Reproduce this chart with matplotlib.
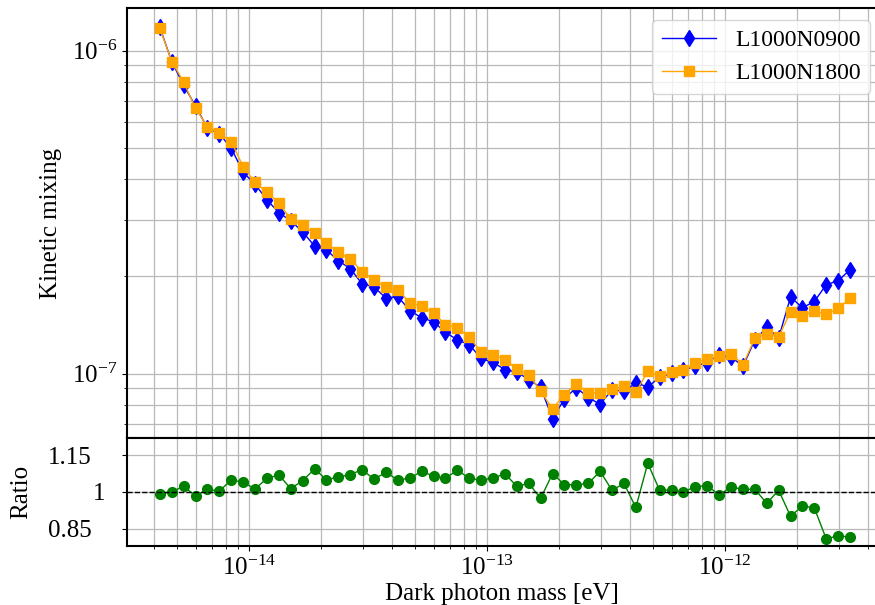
import numpy as np
import matplotlib
matplotlib.use("Agg")
import matplotlib.pyplot as plt
import matplotlib.transforms as mtransforms
from matplotlib.ticker import NullFormatter

plt.rcParams["font.family"] = ["Liberation Serif", "DejaVu Serif"]
plt.rcParams["mathtext.fontset"] = "custom"
plt.rcParams["mathtext.rm"] = "Liberation Serif"
plt.rcParams["mathtext.it"] = "Liberation Serif:italic"
plt.rcParams["axes.linewidth"] = 1.5

# dark photon mass, in units of 1e-15 eV
mass_1e15 = [4.217, 4.732, 5.309, 5.957, 6.683, 7.499, 8.414, 9.441, 10.59, 11.89,
             13.34, 14.96, 16.79, 18.84, 21.13, 23.71, 26.61, 29.85, 33.50, 37.58,
             42.17, 47.32, 53.09, 59.57, 66.83, 74.99, 84.14, 94.41, 105.9, 118.9,
             133.4, 149.6, 167.9, 188.4, 211.3, 237.1, 266.1, 298.5, 335.0, 375.8,
             421.7, 473.2, 530.9, 595.7, 668.3, 749.9, 841.4, 944.1, 1059, 1189,
             1334, 1496, 1679, 1884, 2113, 2371, 2661, 2985, 3350]

# kinetic mixing, in units of 1e-7
mix_n0900 = [11.81, 9.24, 7.82, 6.73, 5.76, 5.53, 4.99, 4.20, 3.86, 3.45,
             3.15, 2.973, 2.749, 2.483, 2.416, 2.237, 2.114, 1.896, 1.856, 1.712,
             1.734, 1.567, 1.490, 1.447, 1.343, 1.272, 1.230, 1.114, 1.083, 1.029,
             1.011, 0.959, 0.906, 0.725, 0.836, 0.905, 0.843, 0.804, 0.891, 0.883,
             0.935, 0.910, 0.974, 1.001, 1.024, 1.056, 1.082, 1.145, 1.127, 1.054,
             1.272, 1.391, 1.290, 1.726, 1.600, 1.672, 1.886, 1.937, 2.100]

mix_n1800 = [11.73, 9.25, 8.00, 6.62, 5.82, 5.55, 5.23, 4.37, 3.91, 3.64,
             3.37, 3.015, 2.875, 2.716, 2.537, 2.373, 2.264, 2.068, 1.953, 1.849,
             1.819, 1.655, 1.615, 1.541, 1.418, 1.385, 1.299, 1.167, 1.145, 1.105,
             1.034, 0.993, 0.882, 0.779, 0.861, 0.931, 0.872, 0.872, 0.897, 0.914,
             0.876, 1.016, 0.981, 1.009, 1.024, 1.079, 1.110, 1.131, 1.150, 1.066,
             1.286, 1.327, 1.299, 1.555, 1.509, 1.563, 1.526, 1.592, 1.714]

ratio = [0.993, 1.001, 1.023, 0.984, 1.011, 1.004, 1.049, 1.040, 1.012, 1.056,
         1.069, 1.014, 1.046, 1.094, 1.050, 1.061, 1.071, 1.091, 1.052, 1.080,
         1.049, 1.056, 1.084, 1.065, 1.056, 1.089, 1.056, 1.048, 1.057, 1.074,
         1.023, 1.035, 0.974, 1.075, 1.030, 1.029, 1.035, 1.084, 1.007, 1.035,
         0.937, 1.117, 1.007, 1.008, 1.000, 1.022, 1.026, 0.988, 1.020, 1.011,
         1.011, 0.954, 1.007, 0.901, 0.943, 0.935, 0.809, 0.822, 0.816]

x_ticks = [1e-14, 1e-13, 1e-12]
y_ticks = [1e-7, 1e-6]
ratio_ticks = [0.85, 1, 1.15]
ratio_ticklabels = ["0.85", "1", "1.15"]

mass = np.array(mass_1e15) * 1e-15
y1 = np.array(mix_n0900) * 1e-7
y2 = np.array(mix_n1800) * 1e-7

W, H = 875, 605
fig = plt.figure(figsize=(W / 100, H / 100), dpi=100)

# one decade of mass = 238 px, right spine just off the picture
left_px, right_px = 127, 877
left = left_px / W
width = (right_px - left_px) / W
ax = fig.add_axes([left, 1 - 438 / H, width, (438 - 8) / H])
axr = fig.add_axes([left, 1 - 546 / H, width, (546 - 438) / H], sharex=ax)

# ---- top panel
ax.plot(mass, y1, color="blue", marker="d", markersize=8, lw=1, label="L1000N0900")
ax.plot(mass, y2, color="orange", marker="s", markersize=7.5, lw=1, label="L1000N1800")
ax.set_xscale("log")
ax.set_yscale("log")
ax.set_xlim(10 ** -14.513, 10 ** (-14.513 + (right_px - left_px) / 238))
ax.set_ylim(6.32e-8, 1.355e-6)
ax.set_xticks(x_ticks)
ax.set_yticks(y_ticks)
ax.grid(True, which="both", color="#b8b8b8", lw=0.9)
ax.set_ylabel("Kinetic mixing", fontsize=18)
ax.yaxis.set_label_coords((62 - left_px) / (right_px - left_px), 0.5)
ax.yaxis.set_minor_formatter(NullFormatter())
ax.xaxis.set_minor_formatter(NullFormatter())
ax.tick_params(labelbottom=False, labelsize=18)
ax.legend(loc="upper right", fontsize=17, handlelength=2.3, borderaxespad=0,
          bbox_to_anchor=(870 / W, 1 - 20 / H), bbox_transform=fig.transFigure)

# ---- ratio panel
axr.plot(mass, ratio, color="green", marker="o", markersize=7, lw=1)
axr.axhline(1, color="black", ls="--", lw=1)
axr.set_ylim(0.78, 1.22)
axr.set_yticks(ratio_ticks)
axr.set_yticklabels(ratio_ticklabels)
axr.grid(True, which="both", color="#b8b8b8", lw=0.9)
axr.set_xlabel("Dark photon mass [eV]", fontsize=18, labelpad=2)
axr.tick_params(axis="x", labelsize=18)
axr.tick_params(axis="y", labelsize=18, pad=22)
# the "1" label sits further right than 0.85 / 1.15 in the reference
for lab in axr.get_yticklabels():
    if lab.get_text() == "1":
        lab.set_transform(lab.get_transform() +
                          mtransforms.ScaledTranslation(10 / 72, 0, fig.dpi_scale_trans))
axr.set_ylabel("Ratio", fontsize=18)
axr.yaxis.set_label_coords((32 - left_px) / (right_px - left_px), 0.5)

fig.savefig("out.png", dpi=100)
